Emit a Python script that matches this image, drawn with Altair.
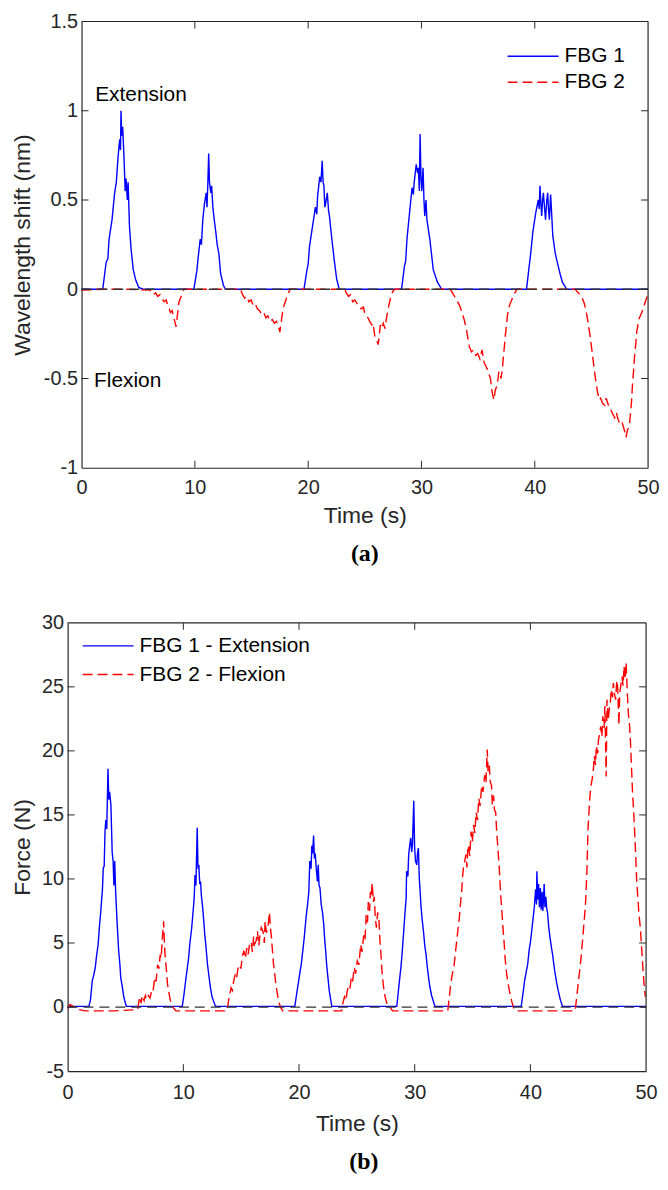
import altair as alt
import pandas as pd

# ---------------- Panel (a): wavelength shift (nm) ----------------
A_FBG1 = [
    (0, 0), (0.8, 0), (1.5, 0), (1.87, 0), (2.17, 0.15), (2.32, 0.17), (2.43, 0.28), (2.69, 0.39),
    (2.92, 0.54), (3.07, 0.6), (3.22, 0.74), (3.37, 0.84), (3.44, 0.78), (3.48, 1.0), (3.55, 0.86),
    (3.63, 0.91), (3.74, 0.75), (3.85, 0.55), (3.93, 0.62), (4.04, 0.5), (4.11, 0.6), (4.23, 0.35),
    (4.38, 0.22), (4.56, 0.11), (4.79, 0.05), (5.05, 0.01), (5.42, 0), (7.5, 0),
    (9.91, 0), (10.17, 0.1), (10.28, 0.17), (10.47, 0.28), (10.58, 0.25), (10.70, 0.39), (10.85, 0.48),
    (11.0, 0.54), (11.07, 0.46), (11.15, 0.6), (11.22, 0.76), (11.29, 0.6), (11.41, 0.54), (11.48, 0.58),
    (11.59, 0.46), (11.71, 0.39), (11.85, 0.32), (11.97, 0.25), (12.12, 0.2), (12.27, 0.09), (12.53, 0.02),
    (12.72, 0), (16, 0),
    (19.63, 0), (19.9, 0.11), (20.0, 0.14), (20.12, 0.24), (20.38, 0.35), (20.64, 0.46), (20.76, 0.42),
    (20.83, 0.52), (21.02, 0.63), (21.13, 0.6), (21.24, 0.72), (21.32, 0.6), (21.39, 0.58), (21.47, 0.46),
    (21.54, 0.48), (21.69, 0.54), (21.8, 0.44), (21.88, 0.41), (22.06, 0.3), (22.29, 0.17), (22.51, 0.06),
    (22.74, 0), (25.5, 0),
    (28.24, 0), (28.5, 0.13), (28.61, 0.16), (28.72, 0.28), (28.95, 0.43), (29.06, 0.5), (29.17, 0.57),
    (29.28, 0.53), (29.36, 0.6), (29.54, 0.7), (29.66, 0.65), (29.73, 0.68), (29.81, 0.55), (29.88, 0.87),
    (29.96, 0.62), (30.03, 0.55), (30.14, 0.68), (30.22, 0.5), (30.29, 0.41), (30.4, 0.5), (30.48, 0.39),
    (30.74, 0.28), (31.04, 0.11), (31.41, 0.04), (31.79, 0), (35.5, 0),
    (39.27, 0), (39.49, 0.12), (39.64, 0.2), (39.83, 0.32), (40.09, 0.43), (40.31, 0.5), (40.39, 0.45),
    (40.46, 0.58), (40.54, 0.48), (40.61, 0.41), (40.69, 0.5), (40.76, 0.54), (40.87, 0.45), (40.95, 0.39),
    (41.06, 0.5), (41.14, 0.54), (41.21, 0.45), (41.29, 0.39), (41.4, 0.53), (41.51, 0.4), (41.59, 0.3),
    (41.81, 0.2), (42.07, 0.13), (42.26, 0.08), (42.44, 0.04), (42.82, 0), (46, 0), (50, 0),
]

A_FBG2 = [
    (0, -0.005), (2, 0), (4, 0), (6.0, -0.005),
    (6.17, -0.01), (6.36, -0.03), (6.54, -0.02), (6.73, -0.04), (6.92, -0.03), (7.1, -0.05), (7.29, -0.07),
    (7.48, -0.06), (7.59, -0.09), (7.74, -0.11), (7.85, -0.13), (8.0, -0.12), (8.12, -0.16), (8.23, -0.18),
    (8.34, -0.21), (8.45, -0.15), (8.6, -0.07), (8.79, -0.04), (8.9, -0.02), (9.05, 0), (11.5, 0),
    (14.02, 0), (14.21, -0.03), (14.4, -0.05), (14.58, -0.04), (14.77, -0.07), (14.96, -0.06), (15.15, -0.09),
    (15.33, -0.08), (15.52, -0.11), (15.71, -0.12), (15.89, -0.14), (16.08, -0.13), (16.27, -0.16),
    (16.45, -0.15), (16.64, -0.18), (16.83, -0.17), (17.02, -0.19), (17.2, -0.18), (17.39, -0.21),
    (17.5, -0.24), (17.65, -0.17), (17.76, -0.12), (17.88, -0.09), (18.03, -0.06), (18.14, -0.04),
    (18.4, 0), (21, 0),
    (23.19, 0), (23.37, -0.02), (23.56, -0.04), (23.75, -0.03), (23.93, -0.07), (24.12, -0.06), (24.31, -0.08),
    (24.5, -0.1), (24.68, -0.11), (24.87, -0.1), (24.98, -0.13), (25.13, -0.15), (25.28, -0.16), (25.43, -0.18),
    (25.62, -0.2), (25.73, -0.19), (25.88, -0.26), (26.03, -0.28), (26.18, -0.31), (26.29, -0.25), (26.37, -0.2),
    (26.48, -0.22), (26.63, -0.19), (26.78, -0.22), (26.89, -0.17), (27.0, -0.13), (27.12, -0.09),
    (27.23, -0.06), (27.34, -0.03), (27.49, -0.01), (27.67, 0), (30, 0),
    (32.54, 0), (32.83, -0.03), (33.1, -0.06), (33.36, -0.09), (33.58, -0.13), (33.77, -0.17), (33.96, -0.22),
    (34.11, -0.28), (34.22, -0.32), (34.41, -0.35), (34.59, -0.34), (34.78, -0.37), (34.97, -0.36),
    (35.16, -0.39), (35.34, -0.34), (35.45, -0.38), (35.53, -0.41), (35.68, -0.43), (35.83, -0.45),
    (35.98, -0.48), (36.09, -0.5), (36.2, -0.56), (36.28, -0.59), (36.39, -0.62), (36.5, -0.57),
    (36.65, -0.54), (36.76, -0.5), (36.84, -0.46), (36.95, -0.48), (37.02, -0.5), (37.14, -0.45),
    (37.21, -0.39), (37.32, -0.32), (37.4, -0.26), (37.51, -0.2), (37.58, -0.15), (37.77, -0.09),
    (37.96, -0.06), (38.15, -0.03), (38.44, 0), (41, 0),
    (43.57, 0), (43.83, -0.02), (44.13, -0.04), (44.32, -0.07), (44.5, -0.11), (44.69, -0.18), (44.88, -0.26),
    (45.06, -0.35), (45.25, -0.45), (45.4, -0.52), (45.55, -0.58), (45.7, -0.62), (45.81, -0.61), (46.0, -0.64),
    (46.19, -0.65), (46.3, -0.61), (46.45, -0.64), (46.6, -0.67), (46.75, -0.68), (46.9, -0.7), (47.05, -0.72),
    (47.2, -0.69), (47.31, -0.72), (47.42, -0.74), (47.57, -0.76), (47.72, -0.75), (47.87, -0.78),
    (47.98, -0.81), (48.06, -0.83), (48.17, -0.79), (48.25, -0.78), (48.36, -0.75), (48.43, -0.71),
    (48.55, -0.62), (48.62, -0.54), (48.73, -0.45), (48.81, -0.37), (48.92, -0.3), (49.0, -0.24),
    (49.18, -0.17), (49.37, -0.14), (49.45, -0.13), (49.66, -0.09), (49.81, -0.06), (49.93, -0.04),
]

# ---------------- Panel (b): force (N) ----------------
B_FBG1 = [
    (0, 0.05), (1.0, 0.05), (1.84, 0.05), (1.98, 0.6), (2.13, 2.05), (2.28, 2.6), (2.39, 3.1), (2.5, 4.0),
    (2.64, 4.9), (2.75, 6.3), (2.86, 7.4), (2.94, 8.4), (3.01, 9.2), (3.08, 10.85), (3.16, 11.0), (3.23, 13.7),
    (3.3, 14.6), (3.38, 13.9), (3.49, 18.6), (3.56, 16.2), (3.63, 16.8), (3.74, 15.8), (3.85, 12.1),
    (3.93, 11.4), (4.0, 9.5), (4.07, 11.4), (4.15, 9.0), (4.26, 6.9), (4.41, 4.4), (4.52, 3.3), (4.59, 2.3),
    (4.74, 1.5), (4.85, 0.8), (5.07, 0.05), (7.5, 0.05),
    (9.91, 0.05), (10.06, 1.0), (10.2, 2.05), (10.31, 2.8), (10.46, 3.85), (10.57, 5.0), (10.72, 6.15),
    (10.83, 7.3), (10.94, 8.5), (11.01, 10.3), (11.09, 9.5), (11.2, 14.0), (11.27, 10.8), (11.34, 11.1),
    (11.42, 9.6), (11.49, 9.8), (11.56, 8.7), (11.67, 7.8), (11.75, 6.9), (11.86, 5.6), (11.97, 4.6),
    (12.08, 3.4), (12.19, 2.6), (12.33, 1.6), (12.48, 0.8), (12.78, 0.05), (16, 0.05),
    (19.64, 0.05), (19.79, 1.0), (19.93, 1.8), (20.08, 2.7), (20.19, 3.3), (20.34, 4.5), (20.45, 5.4),
    (20.56, 6.5), (20.63, 7.2), (20.74, 8.0), (20.85, 9.0), (20.93, 11.4), (21.04, 10.8), (21.11, 12.6),
    (21.18, 12.0), (21.26, 13.4), (21.33, 11.6), (21.4, 12.0), (21.51, 10.6), (21.59, 9.8), (21.66, 11.1),
    (21.73, 9.5), (21.81, 9.3), (21.92, 8.0), (22.03, 7.4), (22.14, 6.4), (22.21, 5.4), (22.32, 4.2),
    (22.39, 3.3), (22.5, 2.3), (22.61, 1.3), (22.83, 0.05), (25.5, 0.05),
    (28.45, 0.05), (28.56, 1.0), (28.71, 2.3), (28.82, 3.2), (28.93, 4.4), (29.04, 5.8), (29.11, 6.7),
    (29.18, 7.6), (29.26, 8.5), (29.3, 10.6), (29.41, 10.2), (29.48, 11.9), (29.59, 12.8), (29.66, 13.2),
    (29.74, 12.1), (29.81, 12.8), (29.92, 16.1), (29.99, 12.5), (30.07, 11.4), (30.18, 11.1), (30.24, 12.0),
    (30.32, 12.4), (30.4, 10.0), (30.47, 9.0), (30.54, 7.9), (30.65, 6.8), (30.76, 5.9), (30.87, 4.8),
    (30.98, 4.1), (31.09, 3.1), (31.2, 2.3), (31.31, 1.6), (31.46, 0.9), (31.75, 0.05), (35.5, 0.05),
    (39.21, 0.05), (39.35, 1.0), (39.5, 2.05), (39.65, 2.8), (39.76, 3.3), (39.9, 4.5), (40.01, 5.1),
    (40.12, 6.0), (40.23, 6.9), (40.34, 7.8), (40.45, 9.2), (40.53, 8.0), (40.56, 10.6), (40.64, 8.4),
    (40.71, 9.6), (40.78, 7.8), (40.86, 9.3), (40.93, 7.6), (41.01, 9.0), (41.08, 7.5), (41.19, 9.6),
    (41.26, 7.8), (41.34, 8.6), (41.41, 7.7), (41.48, 7.4), (41.59, 6.2), (41.67, 5.6), (41.81, 4.7),
    (41.92, 4.1), (42.03, 3.3), (42.14, 2.6), (42.29, 1.8), (42.4, 1.3), (42.58, 0.6), (42.77, 0.05),
    (46, 0.05), (50, 0.05),
]

B_FBG2 = [
    (0, -0.1), (0.2, 0.2), (0.4, 0.1), (0.7, -0.1), (1.0, -0.2), (1.5, -0.3), (4.0, -0.3),
    (6.06, -0.2), (6.17, 0.5), (6.24, 0.8), (6.35, 0.3), (6.46, 0.9), (6.61, 0.5), (6.72, 0.9), (6.83, 0.6),
    (6.98, 0.9), (7.12, 0.7), (7.27, 1.3), (7.38, 1.2), (7.53, 2.3), (7.64, 2.0), (7.78, 3.3), (7.89, 3.0),
    (8.0, 4.1), (8.08, 3.8), (8.19, 5.4), (8.3, 6.7), (8.37, 4.8), (8.44, 3.85), (8.55, 2.8), (8.63, 1.8),
    (8.74, 1.2), (8.88, 0.5), (9.03, 0.1), (9.18, -0.1), (9.36, -0.3), (11.5, -0.3),
    (13.77, -0.3), (13.88, 0.3), (13.99, 0.9), (14.13, 1.5), (14.24, 1.3), (14.35, 2.0), (14.5, 2.6),
    (14.61, 2.3), (14.72, 3.0), (14.87, 3.3), (14.98, 3.0), (15.09, 3.9), (15.23, 4.4), (15.35, 3.8),
    (15.49, 4.6), (15.6, 4.1), (15.71, 4.8), (15.86, 5.1), (15.97, 4.3), (16.08, 5.5), (16.15, 4.9),
    (16.3, 5.2), (16.41, 5.9), (16.52, 4.8), (16.63, 5.6), (16.74, 6.2), (16.89, 5.9), (17.0, 5.0),
    (17.07, 6.7), (17.18, 5.8), (17.33, 6.3), (17.44, 7.4), (17.55, 6.0), (17.62, 5.4), (17.73, 4.1),
    (17.8, 3.3), (17.91, 2.5), (17.99, 1.8), (18.1, 1.2), (18.17, 0.8), (18.28, 0.3), (18.43, -0.05),
    (18.58, -0.3), (21, -0.3),
    (23.68, -0.3), (23.79, 0.3), (23.93, 0.8), (24.05, 0.5), (24.16, 1.2), (24.23, 1.5), (24.38, 1.3),
    (24.52, 2.3), (24.63, 2.0), (24.78, 3.1), (24.89, 2.6), (25.04, 3.6), (25.18, 3.3), (25.33, 4.9),
    (25.44, 4.3), (25.59, 5.6), (25.7, 5.2), (25.81, 7.2), (25.92, 6.6), (25.99, 8.2), (26.1, 7.5),
    (26.17, 9.0), (26.25, 8.6), (26.32, 9.7), (26.43, 8.2), (26.5, 8.6), (26.58, 7.2), (26.69, 6.2),
    (26.8, 7.4), (26.91, 6.8), (26.98, 5.4), (27.09, 4.0), (27.17, 2.8), (27.28, 1.8), (27.39, 1.0),
    (27.5, 0.6), (27.61, 0.25), (27.75, 0.1), (27.9, -0.05), (28.08, -0.3), (30.5, -0.3),
    (32.86, -0.3), (32.97, 0.6), (33.11, 1.8), (33.26, 2.6), (33.41, 3.3), (33.55, 4.5), (33.66, 5.4),
    (33.77, 6.3), (33.88, 7.2), (33.99, 8.4), (34.07, 9.2), (34.14, 10.2), (34.21, 10.85), (34.32, 11.4),
    (34.43, 11.9), (34.51, 10.9), (34.58, 12.2), (34.65, 12.65), (34.76, 11.8), (34.87, 13.7), (34.98, 12.9),
    (35.09, 14.2), (35.2, 13.6), (35.31, 15.2), (35.43, 14.6), (35.54, 16.3), (35.65, 15.7), (35.79, 17.3),
    (35.9, 16.8), (36.05, 18.1), (36.16, 17.5), (36.27, 20.1), (36.34, 18.4), (36.45, 18.85), (36.53, 17.6),
    (36.64, 17.3), (36.71, 15.8), (36.82, 16.5), (36.89, 15.4), (37.0, 15.2), (37.08, 13.8), (37.19, 12.4),
    (37.3, 11.0), (37.37, 9.8), (37.45, 8.5), (37.56, 7.2), (37.63, 6.2), (37.74, 4.9), (37.81, 3.85),
    (37.92, 2.8), (38.03, 2.05), (38.18, 1.3), (38.29, 0.8), (38.4, 0.4), (38.55, -0.05), (38.73, -0.3),
    (41.5, -0.3),
    (43.87, -0.3), (43.98, 0.6), (44.13, 1.8), (44.24, 2.7), (44.35, 3.6), (44.49, 5.0), (44.6, 6.2),
    (44.71, 7.4), (44.79, 8.5), (44.9, 11.0), (44.97, 13.7), (45.08, 15.5), (45.15, 16.5), (45.26, 17.4),
    (45.34, 17.8), (45.45, 18.6), (45.52, 19.6), (45.63, 18.9), (45.7, 20.4), (45.81, 19.8), (45.89, 20.9),
    (46.0, 21.4), (46.07, 21.9), (46.18, 21.1), (46.26, 22.7), (46.37, 21.8), (46.44, 23.5), (46.55, 18.0),
    (46.62, 24.0), (46.73, 22.4), (46.81, 23.2), (46.92, 23.9), (46.99, 24.8), (47.1, 24.2), (47.17, 25.3),
    (47.28, 24.4), (47.36, 24.0), (47.47, 25.5), (47.54, 25.0), (47.65, 22.0), (47.72, 24.5), (47.83, 25.2),
    (47.91, 25.8), (48.02, 25.1), (48.09, 26.6), (48.2, 25.6), (48.27, 26.9), (48.38, 24.5), (48.46, 23.0),
    (48.57, 22.0), (48.64, 20.9), (48.75, 18.5), (48.83, 16.8), (48.94, 15.0), (49.01, 13.7), (49.12, 11.5),
    (49.19, 9.8), (49.3, 8.4), (49.37, 7.4), (49.49, 6.3), (49.56, 5.4), (49.67, 3.8), (49.74, 2.8),
    (49.85, 1.5), (49.93, 0.8),
]

X_TICKS = [0, 10, 20, 30, 40, 50]
A_Y_TICKS = [-1, -0.5, 0, 0.5, 1, 1.5]
B_Y_TICKS = [-5, 0, 5, 10, 15, 20, 25, 30]

A_LEGEND = [("FBG 1", 37.6, 42.1, 1.305), ("FBG 2", 37.6, 42.1, 1.16)]
A_NOTES = [("Extension", 1.2, 1.09), ("Flexion", 1.1, -0.516)]
B_LEGEND = [("FBG 1 - Extension", 1.3, 5.7, 28.2), ("FBG 2 - Flexion", 1.3, 5.7, 25.96)]

BLUE = "#0000ff"
RED = "#ff0000"
INK = "#262626"
FONT = "Liberation Sans"
DASH = [10, 5]
FRAME_W = 1.2


def panel(s1, s2, legend, notes, ydom, yticks, ytitle, ypad, L, W, H, label,
          xlabpad, xtitlepad, capoff):
    # the plot frame runs from pixel L (<= 0) to W inside the panel's group
    xs = alt.Scale(domain=[0, 50], nice=False, zero=False, range=[L, W])
    ys = alt.Scale(domain=ydom, nice=False, zero=False)
    xax = alt.Axis(values=X_TICKS, title="Time (s)", ticks=False, tickSize=0, grid=False,
                   labelPadding=xlabpad, titlePadding=xtitlepad, labelFontSize=20, titleFontSize=23,
                   labelFont=FONT, titleFont=FONT, labelColor=INK, titleColor=INK,
                   titleFontWeight="normal", domainColor=INK, domainWidth=FRAME_W, labelFlush=False)
    yax = alt.Axis(values=yticks, title=ytitle, ticks=False, tickSize=0, grid=False,
                   labelPadding=4, titlePadding=ypad, labelFontSize=20, titleFontSize=23,
                   labelFont=FONT, titleFont=FONT, labelColor=INK, titleColor=INK,
                   titleFontWeight="normal", domainColor=INK, domainWidth=FRAME_W,
                   offset=-L, labelExpr="datum.value + ''")
    X = alt.X("t:Q", scale=xs, axis=xax)
    Y = alt.Y("v:Q", scale=ys, axis=yax)

    d1 = pd.DataFrame(s1, columns=["t", "v"])
    d2 = pd.DataFrame(s2, columns=["t", "v"])
    l1 = alt.Chart(d1).mark_line(color=BLUE, strokeWidth=1.4).encode(x=X, y=Y)
    l2 = alt.Chart(d2).mark_line(color=RED, strokeWidth=1.4, strokeDash=DASH).encode(x=X, y=Y)
    zero = alt.Chart(pd.DataFrame({"t": [0], "t2": [50], "v": [0]})).mark_rule(
        color="#333333", strokeWidth=1.3, strokeDash=[10, 6]).encode(x=X, x2="t2:Q", y=Y)

    lg = pd.DataFrame(legend, columns=["label", "t", "t2", "v"])
    lg["kind"] = ["s", "d"]
    leg_solid = alt.Chart(lg[lg.kind == "s"]).mark_rule(color=BLUE, strokeWidth=1.4).encode(
        x=X, x2="t2:Q", y=Y)
    leg_dash = alt.Chart(lg[lg.kind == "d"]).mark_rule(color=RED, strokeWidth=1.4, strokeDash=DASH).encode(
        x=X, x2="t2:Q", y=Y)
    leg_text = alt.Chart(lg).mark_text(align="left", baseline="middle", dx=6, font=FONT,
                                        fontSize=21, color="#000000").encode(
        x=alt.X("t2:Q", scale=xs, axis=xax), y=Y, text="label:N")

    layers = [l1, l2, zero, leg_solid, leg_dash, leg_text]
    if notes:
        nd = pd.DataFrame(notes, columns=["label", "t", "v"])
        layers.append(alt.Chart(nd).mark_text(align="left", baseline="middle", font=FONT,
                                              fontSize=21, color="#000000").encode(
            x=X, y=Y, text="label:N"))

    # top and right sides of the box, plus inward ticks on all four sides (MATLAB style)
    xt = pd.DataFrame({"t": X_TICKS[1:-1]})
    yt = pd.DataFrame({"v": [v for v in yticks[1:-1]]})
    tk = dict(color=INK, strokeWidth=1)
    one = pd.DataFrame({"k": [0]})
    layers += [
        alt.Chart(one).mark_rule(color=INK, strokeWidth=FRAME_W).encode(
            x=alt.value(L), x2=alt.value(W), y=alt.value(0)),
        alt.Chart(one).mark_rule(color=INK, strokeWidth=FRAME_W).encode(
            x=alt.value(W), y=alt.value(0), y2=alt.value(H)),
        alt.Chart(xt).mark_rule(**tk).encode(x=X, y=alt.value(0), y2=alt.value(7)),
        alt.Chart(xt).mark_rule(**tk).encode(x=X, y=alt.value(H), y2=alt.value(H - 7)),
        alt.Chart(yt).mark_rule(**tk).encode(y=Y, x=alt.value(L), x2=alt.value(L + 7)),
        alt.Chart(yt).mark_rule(**tk).encode(y=Y, x=alt.value(W), x2=alt.value(W - 7)),
    ]
    return alt.layer(*layers).properties(
        width=W, height=H,
        view=alt.ViewBackground(stroke="transparent", strokeWidth=0, fill="transparent"),
        title=alt.TitleParams(label, orient="bottom", anchor="middle", font="Liberation Serif",
                              fontSize=24, fontWeight="bold", color="#000000", offset=capoff),
    )


pa = panel(A_FBG1, A_FBG2, A_LEGEND, A_NOTES, [-1, 1.5], A_Y_TICKS, "Wavelength shift (nm)", 9,
           0, 570, 449, "(a)", 10, 7, 15)
pb = panel(B_FBG1, B_FBG2, B_LEGEND, None, [-5, 30], B_Y_TICKS, "Force (N)", 7,
           -14, 568, 451, "(b)", 12, 10, 15)

chart = alt.vconcat(pa, pb, spacing=47).properties(
    padding={"left": 3, "top": 0, "right": 0, "bottom": 0}
).configure_view(stroke="transparent", strokeWidth=0).configure(background="white")

chart.save("out.html", embed_options={"renderer": "svg", "actions": False})
